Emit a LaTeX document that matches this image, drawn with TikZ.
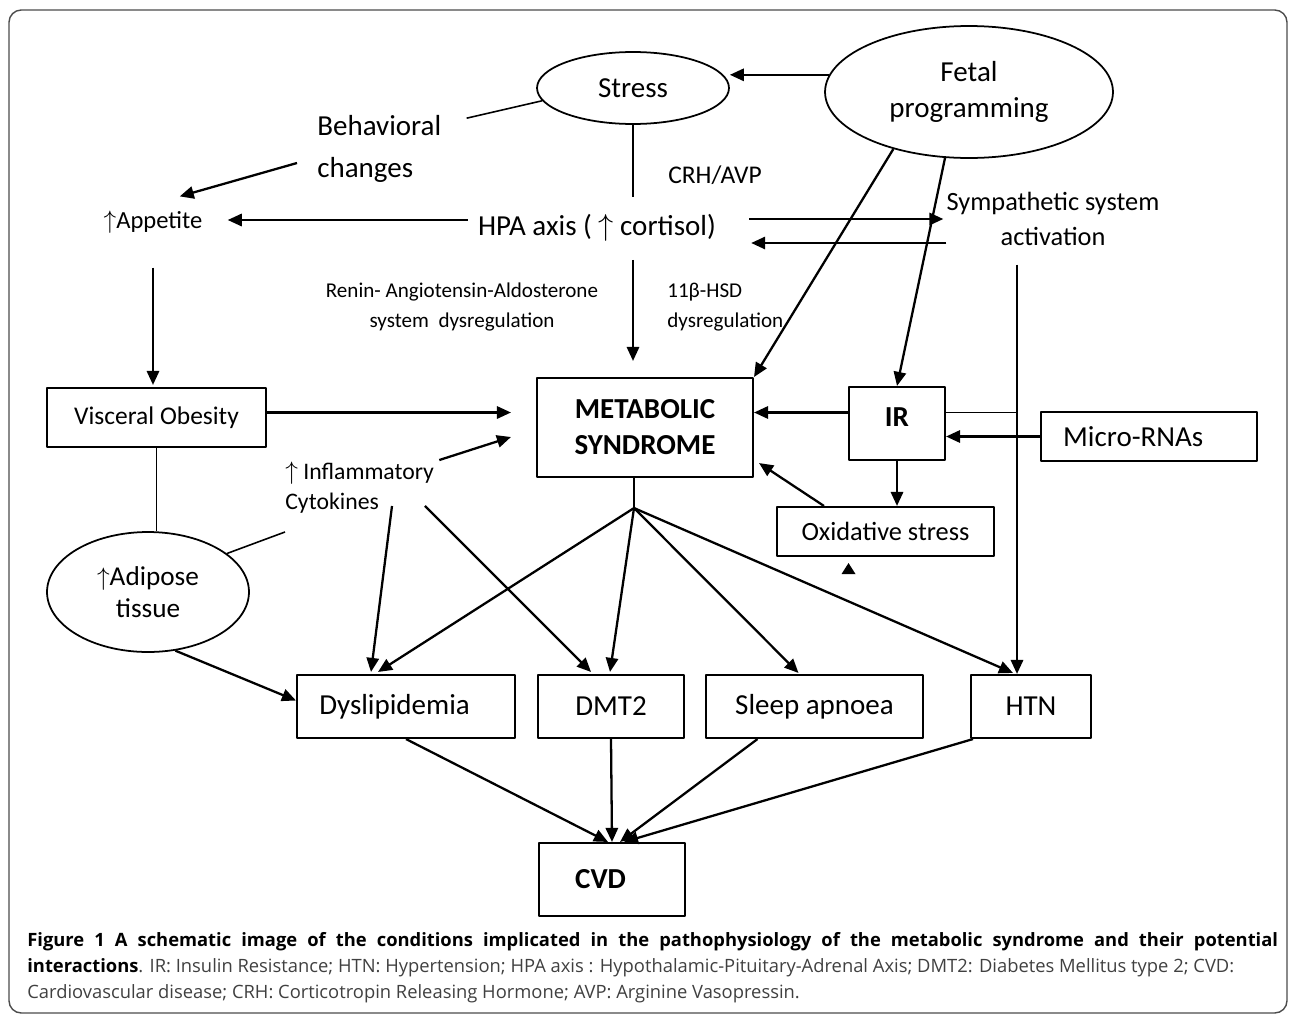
\documentclass[tikz,border=0pt]{standalone}
\usepackage{fontspec}
\setmainfont{Carlito}
\newfontfamily\capfont{Open Sans}
\usetikzlibrary{arrows.meta,shapes.geometric,calc}
\begin{document}
\begin{tikzpicture}[x=0.02cm, y=-0.02cm, line join=round, >={Triangle[length=8pt,width=7pt]},
  box/.style={draw, line width=1.2pt, inner sep=0pt, align=center, minimum width=#1},
  oval/.style={draw, ellipse, line width=1pt, inner sep=0pt, align=center},
  lbl/.style={inner sep=0pt},
  arr/.style={->, line width=1.3pt},
  ln/.style={line width=0.9pt},
  big/.style={font=\fontsize{16.5}{20.4}\selectfont}]
\useasboundingbox (0,0) rectangle (1290,1014);
\draw[black!70, line width=0.8pt, rounded corners=7pt] (9,10) rectangle (1287,1013);
\node[oval, big, minimum width=3.84cm, minimum height=1.44cm] (stress) at (633,88) {Stress};
\node[oval, big, minimum width=5.76cm, minimum height=2.64cm] (fetal) at (969,92) {Fetal\\programming};
\node[lbl, font=\fontsize{16.5}{23.8}\selectfont, anchor=west, align=left] (behav) at (317,149) {Behavioral\\changes};
\node[lbl, font=\fontsize{14}{17}\selectfont] (app) at (153,222) {$\uparrow$Appetite};
\node[lbl, big] (hpa) at (597,228) {HPA axis ( $\uparrow$ cortisol)};
\node[lbl, font=\fontsize{14.5}{17}\selectfont] (crh) at (715,175) {CRH/AVP};
\node[lbl, font=\fontsize{15}{20.4}\selectfont, align=center] (symp) at (1053,219) {Sympathetic system\\activation};
\node[lbl, font=\fontsize{12}{17}\selectfont, align=center] (renin) at (462,307) {Renin- Angiotensin-Aldosterone\\system\ \ dysregulation};
\node[lbl, font=\fontsize{12}{17}\selectfont, anchor=west, align=left] (hsd) at (667,307) {11β-HSD\\dysregulation};
\node[box=4.38cm, minimum height=1.18cm, font=\fontsize{14.5}{17}\selectfont] (visc) at (156.5,417.5) {Visceral Obesity};
\node[box=4.32cm, minimum height=1.98cm, font=\bfseries\fontsize{16.5}{20.4}\selectfont] (ms) at (645,427.5) {METABOLIC\\SYNDROME};
\node[box=1.92cm, minimum height=1.46cm, font=\bfseries\fontsize{16.5}{20}\selectfont] (ir) at (897,423.5) {IR\rule[-7pt]{0pt}{7pt}};
\node[box=4.32cm, minimum height=0.98cm, big] (micro) at (1149,436.5) {Micro-RNAs\hspace{18pt}};
\node[box=4.34cm, minimum height=0.98cm, font=\fontsize{15}{18}\selectfont] (oxi) at (885.5,531.5) {Oxidative stress};
\node[lbl, font=\fontsize{13.5}{17}\selectfont, anchor=west, align=left] (infl) at (285,488) {$\uparrow$ Inflammatory\\Cytokines};
\node[oval, font=\fontsize{15.5}{18}\selectfont, minimum width=4.04cm, minimum height=2.4cm] (adip) at (148,592) {$\uparrow$Adipose\\tissue};
\node[box=4.36cm, minimum height=1.26cm, big] (dys) at (406,706.5) {Dyslipidemia\hspace{13pt}};
\node[box=2.92cm, minimum height=1.26cm, big] (dmt) at (611,706.5) {DMT2};
\node[box=4.34cm, minimum height=1.26cm, big] (sleep) at (814.5,706.5) {Sleep apnoea};
\node[box=2.40cm, minimum height=1.26cm, big] (htn) at (1031,706.5) {HTN};
\node[box=2.92cm, minimum height=1.46cm, font=\bfseries\fontsize{16.5}{20}\selectfont] (cvd) at (612,879.5) {CVD\hspace{13pt}};
\coordinate (hub) at ($(ms.south)+(-11,30)$);
\coordinate (sympdown) at ($(symp.south)+(-36,18)$);
\draw[arr] (fetal.173) -- (fetal.173 -| stress.east);
\draw[ln] (stress.188) -- ($(behav.north east)+(25,3)$);
\draw[arr] ($(behav.west)+(-20,14)$) -- ($(app.north east)+(-23,-14)$);
\draw[arr] ($(hpa.west)+(-10,-8)$) -- ($(app.east)+(25,-2)$);
\draw[ln] (stress.south) -- ($(stress.south |- hpa.north)+(0,-17)$);
\draw[arr] ($(hpa.south -| stress.south)+(0,18)$) -- ($(stress.south |- ms.north)+(0,-16)$);
\draw[arr] ($(hpa.east)+(33,-9)$) -- ($(symp.west)+(-3,0)$);
\draw[arr] ($(symp.west)+(0,24)$) -- ($(hpa.east)+(35,15)$);
\draw[arr] (fetal.217) -- (ms.north east);
\draw[arr] (fetal.250) -- (ir.north);
\draw[arr] ($(app.south)+(0,34)$) -- ($(app.south |- visc.north)+(0,-2)$);
\draw[arr] ($(visc.east)+(0,-5)$) -- ($(visc.east -| ms.west)+(-25,-5)$);
\draw[ln] (visc.south) -- (visc.south |- adip.north);
\draw[ln] (adip.26) -- ($(infl.south west)+(0,18)$);
\draw[arr] ($(infl.north east)+(5,-2)$) -- ($(ms.west)+(-25,9.5)$);
\draw[arr] ($(infl.south west)+(107,-8)$) -- ($(dys.north)+(-35,-2)$);
\draw[arr] ($(infl.south west)+(140,-8)$) -- ($(dmt.north)+(-20,-2)$);
\draw[arr] (adip.295) -- ($(dys.west)+(0,-6)$);
\draw[ln] (ms.south -| hub) -- (hub);
\draw[arr] (hub) -- ($(dys.north)+(-28,-2)$);
\draw[arr] (hub) -- ($(dmt.north)+(-1,-2)$);
\draw[arr] (hub) -- ($(sleep.north)+(-16,-1)$);
\draw[arr] (hub) -- ($(htn.north)+(-18,-1)$);
\draw[arr] (sympdown) -- (sympdown |- htn.north);
\draw[ln] ($(ir.east)+(0,-11)$) coordinate (irr) -- (irr -| sympdown);
\draw[arr] ($(ir.west)+(0,-11)$) coordinate (irl) -- (irl -| ms.east);
\draw[arr] (micro.west) -- (micro.west -| ir.east);
\draw[arr] (ir.south) -- (ir.south |- oxi.north);
\draw[arr] ($(oxi.north west)+(48,0)$) -- ($(ms.south east)+(5,-15)$);
\fill ($(oxi.south)+(-37,6)$) -- ++(7,11) -- ++(-14,0) -- cycle;
\draw[arr] (dys.south) -- ($(cvd.north)+(-4,0)$);
\draw[arr] (dmt.south) -- (cvd.north);
\draw[arr] ($(sleep.south)+(-57,0)$) -- ($(cvd.north)+(8,0)$);
\draw[arr] ($(htn.south west)+(3,0)$) -- ($(cvd.north)+(12,0)$);
\node[lbl, anchor=north west, align=left, font=\capfont\fontsize{10.45}{14.7}\selectfont] (cap) at (27,932)
  {\makebox[25.02cm][s]{\bfseries Figure 1 A schematic image of the conditions implicated in the pathophysiology of the metabolic syndrome and their potential}\\
   {\bfseries interactions}\color{black!75}. IR: Insulin Resistance; HTN: Hypertension; HPA axis : Hypothalamic-Pituitary-Adrenal Axis; DMT2: Diabetes Mellitus type 2; CVD:\\
   \color{black!75}Cardiovascular disease; CRH: Corticotropin Releasing Hormone; AVP: Arginine Vasopressin.};
\end{tikzpicture}
\end{document}
